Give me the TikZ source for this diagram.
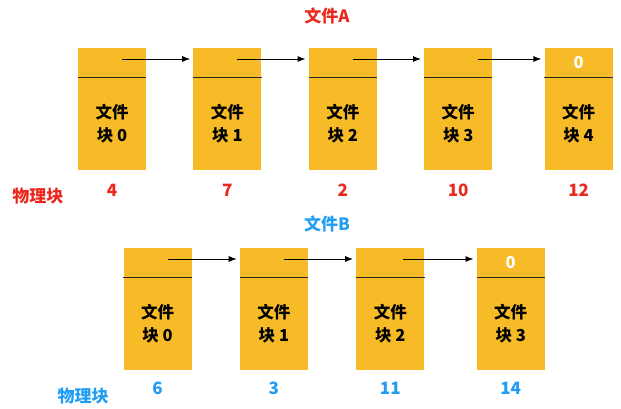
\documentclass[tikz,border=0pt]{standalone}
\usepackage{fontspec}
\setmainfont{Noto Sans CJK SC}
\usetikzlibrary{arrows.meta,positioning}
\definecolor{blkyellow}{RGB}{247,187,39}
\definecolor{fared}{RGB}{236,40,30}
\definecolor{fbblue}{RGB}{33,157,243}

\begin{document}
\begin{tikzpicture}[x=1pt,y=-1pt,font=\fontsize{16.5}{23}\selectfont\bfseries,node distance=47pt,every node/.style={align=center}]
        \useasboundingbox (0,0) rectangle (621,409);
        \tikzset{
          blktop/.style={fill=blkyellow,minimum width=68pt,minimum height=29pt,inner sep=0pt,text=white},
          blkbot/.style={fill=blkyellow,minimum width=68pt,minimum height=93pt,inner sep=0pt,text=black},
          divline/.style={draw=black!85,line width=1pt},
          ptr/.style={-{Latex[length=8pt,width=6pt]},line width=0.9pt,black},
          numA/.style={text=fared,font=\fontsize{17}{17}\selectfont\bfseries,inner sep=0pt},
          numB/.style={text=fbblue,font=\fontsize{17}{17}\selectfont\bfseries,inner sep=0pt}
        }
        % file A
        \node[text=fared,font=\fontsize{17}{17}\selectfont\bfseries] (titleA) at (327,16) {文件A};
        \node[blktop] (a0) at (112,62.5) {};
        \node[blktop,right=of a0] (a1) {};
        \node[blktop,right=of a1] (a2) {};
        \node[blktop,right=of a2] (a3) {};
        \node[blktop,right=52pt of a3] (a4) {0};
        \node[blkbot,below=0pt of a0] (a0b) {文件\\块 0};
        \node[blkbot,below=0pt of a1] (a1b) {文件\\块 1};
        \node[blkbot,below=0pt of a2] (a2b) {文件\\块 2};
        \node[blkbot,below=0pt of a3] (a3b) {文件\\块 3};
        \node[blkbot,below=0pt of a4] (a4b) {文件\\块 4};
        \draw[divline] (a0.south west) -- (a0.south east);
        \draw[divline] (a1.south west) -- (a1.south east);
        \draw[divline] (a2.south west) -- (a2.south east);
        \draw[divline] (a3.south west) -- (a3.south east);
        \draw[divline] (a4.south west) -- (a4.south east);
        \draw[ptr] ([xshift=10pt,yshift=3.5pt]a0.center) -- ([xshift=-3pt,yshift=3.5pt]a1.west);
        \draw[ptr] ([xshift=10pt,yshift=3.5pt]a1.center) -- ([xshift=-3pt,yshift=3.5pt]a2.west);
        \draw[ptr] ([xshift=10pt,yshift=3.5pt]a2.center) -- ([xshift=-3pt,yshift=3.5pt]a3.west);
        \draw[ptr] ([xshift=20pt,yshift=3.5pt]a3.center) -- ([xshift=-3pt,yshift=3.5pt]a4.west);
        \node[numA,below=13pt of a0b] (na0) {4};
        \node[numA,below=13pt of a1b] (na1) {7};
        \node[numA,below=13pt of a2b] (na2) {2};
        \node[numA,below=13pt of a3b] (na3) {10};
        \node[numA,below=13pt of a4b] (na4) {12};
        \node[text=fared,font=\fontsize{17}{17}\selectfont\bfseries] (physA) at (38,196) {物理块};
        % file B
        \node[text=fbblue,font=\fontsize{17}{17}\selectfont\bfseries] (titleB) at (327,224) {文件B};
        \node[blktop] (b0) at (157.5,262.5) {};
        \node[blktop,right=48pt of b0] (b1) {};
        \node[blktop,right=48pt of b1] (b2) {};
        \node[blktop,right=52pt of b2] (b3) {0};
        \node[blkbot,below=0pt of b0] (b0b) {文件\\块 0};
        \node[blkbot,below=0pt of b1] (b1b) {文件\\块 1};
        \node[blkbot,below=0pt of b2] (b2b) {文件\\块 2};
        \node[blkbot,below=0pt of b3] (b3b) {文件\\块 3};
        \draw[divline] (b0.south west) -- (b0.south east);
        \draw[divline] (b1.south west) -- (b1.south east);
        \draw[divline] (b2.south west) -- (b2.south east);
        \draw[divline] (b3.south west) -- (b3.south east);
        \draw[ptr] ([xshift=10pt,yshift=3.5pt]b0.center) -- ([xshift=-3pt,yshift=3.5pt]b1.west);
        \draw[ptr] ([xshift=10pt,yshift=3.5pt]b1.center) -- ([xshift=-3pt,yshift=3.5pt]b2.west);
        \draw[ptr] ([xshift=13pt,yshift=3.5pt]b2.center) -- ([xshift=-3pt,yshift=3.5pt]b3.west);
        \node[numB,below=11pt of b0b] (nb0) {6};
        \node[numB,below=11pt of b1b] (nb1) {3};
        \node[numB,below=11pt of b2b] (nb2) {11};
        \node[numB,below=11pt of b3b] (nb3) {14};
        \node[text=fbblue,font=\fontsize{17}{17}\selectfont\bfseries] (physB) at (83,396) {物理块};
      \end{tikzpicture}
\end{document}
